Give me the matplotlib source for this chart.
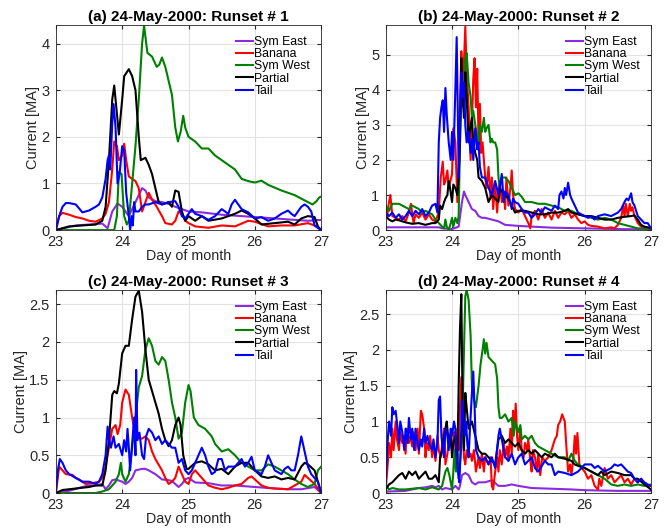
import matplotlib.pyplot as plt
from matplotlib.ticker import FormatStrFormatter

plt.rcParams['font.family'] = ['Liberation Sans', 'DejaVu Sans']

names = ['Sym East', 'Banana', 'Sym West', 'Partial', 'Tail']
colors = ['#8a2be2', '#ff0000', '#008000', '#000000', '#0000ff']
titles = ['(a) 24-May-2000: Runset # 1', '(b) 24-May-2000: Runset # 2',
          '(c) 24-May-2000: Runset # 3', '(d) 24-May-2000: Runset # 4']
ytop = [4.4, 5.85, 2.69, 2.84]
yticks = [[0, 1, 2, 3, 4], [0, 1, 2, 3, 4, 5],
          [0, 0.5, 1, 1.5, 2, 2.5], [0, 0.5, 1, 1.5, 2, 2.5]]
xticks = [23, 24, 25, 26, 27]

# (day, current [MA])
# runset 1
a_east = [(23, 0), (23.3, 0.1), (23.7, 0.14), (23.78, 0.04), (23.85, 0.4), (23.93, 0.57),
          (24.0, 0.5), (24.1, 0.3), (24.2, 0.6), (24.3, 0.9), (24.35, 0.85), (24.4, 0.7),
          (24.5, 0.62), (24.6, 0.6), (24.7, 0.56), (24.8, 0.5), (25.0, 0.4), (25.2, 0.38),
          (25.5, 0.33), (25.8, 0.3), (26.0, 0.28), (26.3, 0.25), (26.6, 0.22), (26.8, 0.2),
          (27, 0.22)]
a_banana = [(23, 0), (23.05, 0.3), (23.1, 0.37), (23.2, 0.33), (23.3, 0.28), (23.4, 0.25),
            (23.5, 0.2), (23.6, 0.18), (23.7, 0.25), (23.75, 0.35), (23.8, 0.6), (23.85, 1.3),
            (23.88, 1.9), (23.92, 1.8), (23.95, 1.5), (24.0, 1.6), (24.03, 1.85), (24.06, 1.5),
            (24.1, 1.15), (24.15, 1.1), (24.2, 1.05), (24.25, 0.9), (24.3, 0.4), (24.35, 0.6),
            (24.4, 0.8), (24.45, 0.65), (24.5, 0.55), (24.6, 0.3), (24.65, 0.15), (24.75, 0.12),
            (24.8, 0.2), (24.85, 0.4), (24.9, 0.35), (24.95, 0.2), (25.0, 0.15), (25.1, 0.08),
            (25.3, 0.05), (25.5, 0.1), (25.7, 0.08), (25.9, 0.2), (26.0, 0.18), (26.2, 0.08),
            (26.4, 0.1), (26.6, 0.1), (26.8, 0.15), (26.9, 0.1), (27, 0)]
a_west = [(23, 0), (23.5, 0), (23.88, 0), (23.92, 0.3), (23.95, 1.25), (23.99, 1.2),
          (24.03, 0.3), (24.07, 0.12), (24.1, 0.2), (24.15, 1.0), (24.2, 1.8), (24.25, 2.8),
          (24.3, 4.0), (24.33, 4.38), (24.38, 3.8), (24.45, 3.72), (24.52, 3.5), (24.56, 3.55),
          (24.6, 3.7), (24.65, 3.5), (24.7, 3.2), (24.75, 2.9), (24.8, 2.2), (24.84, 1.9),
          (24.88, 2.1), (24.92, 2.45), (24.95, 2.2), (25.0, 2.0), (25.1, 1.9), (25.2, 1.75),
          (25.3, 1.75), (25.4, 1.6), (25.5, 1.5), (25.6, 1.4), (25.7, 1.3), (25.8, 1.1),
          (25.9, 1.05), (26.0, 1.02), (26.1, 1.06), (26.2, 0.97), (26.4, 0.85), (26.6, 0.75),
          (26.8, 0.6), (26.87, 0.55), (26.93, 0.62), (26.97, 0.7), (27, 0.72)]
a_partial = [(23, 0), (23.2, 0.08), (23.4, 0.1), (23.6, 0.12), (23.7, 0.2), (23.75, 0.5),
             (23.8, 1.5), (23.85, 2.8), (23.88, 3.1), (23.92, 2.5), (23.95, 2.05), (24.0, 2.8),
             (24.03, 3.3), (24.1, 3.45), (24.15, 3.3), (24.2, 3.0), (24.25, 2.0), (24.28, 1.5),
             (24.35, 1.55), (24.4, 1.4), (24.45, 1.2), (24.5, 0.9), (24.55, 0.6), (24.6, 0.55),
             (24.7, 0.6), (24.75, 0.5), (24.8, 0.85), (24.85, 0.82), (24.9, 0.4), (24.95, 0.2),
             (25.0, 0.3), (25.1, 0.2), (25.2, 0.3), (25.3, 0.2), (25.5, 0.25), (25.7, 0.35),
             (25.8, 0.42), (25.9, 0.35), (26.0, 0.25), (26.1, 0.12), (26.3, 0.15), (26.5, 0.18),
             (26.6, 0.12), (26.7, 0.25), (26.8, 0.3), (26.9, 0.28), (26.95, 0.08), (27, 0)]
a_tail = [(23, 0), (23.05, 0.3), (23.1, 0.5), (23.15, 0.58), (23.2, 0.58), (23.3, 0.55),
          (23.4, 0.38), (23.5, 0.42), (23.6, 0.5), (23.65, 0.55), (23.7, 0.7), (23.75, 1.1),
          (23.78, 1.5), (23.8, 1.6), (23.82, 1.3), (23.85, 2.3), (23.87, 2.7), (23.9, 2.2),
          (23.93, 1.0), (23.96, 1.2), (24.0, 1.8), (24.03, 1.7), (24.06, 0.8), (24.1, 0.3),
          (24.12, 0.0), (24.14, 0.3), (24.16, 0.1), (24.18, 0.6), (24.2, 0.4), (24.25, 0.4),
          (24.3, 0.5), (24.35, 0.55), (24.4, 0.55), (24.5, 0.6), (24.6, 0.55), (24.7, 0.6),
          (24.8, 0.62), (24.85, 0.5), (24.9, 0.3), (24.95, 0.25), (25.0, 0.35), (25.05, 0.45),
          (25.1, 0.35), (25.2, 0.3), (25.3, 0.22), (25.4, 0.3), (25.5, 0.45), (25.6, 0.35),
          (25.65, 0.55), (25.7, 0.65), (25.75, 0.55), (25.8, 0.45), (25.9, 0.38), (26.0, 0.25),
          (26.1, 0.28), (26.2, 0.2), (26.3, 0.25), (26.4, 0.35), (26.5, 0.42), (26.55, 0.35),
          (26.6, 0.3), (26.7, 0.5), (26.75, 0.55), (26.8, 0.5), (26.85, 0.4), (26.9, 0.1),
          (27, 0)]

# runset 2
b_east = [(23, 0.08), (23.4, 0.08), (23.8, 0.08), (23.85, 0.05), (24.0, 0.03), (24.1, 0.1),
          (24.15, 0.8), (24.18, 1.1), (24.2, 1.0), (24.25, 0.8), (24.3, 0.6), (24.35, 0.55),
          (24.4, 0.4), (24.45, 0.35), (24.5, 0.35), (24.6, 0.3), (24.7, 0.25), (24.8, 0.15),
          (25.0, 0.12), (25.2, 0.1), (25.5, 0.07), (26.0, 0.05), (26.5, 0.03), (27, 0.02)]
b_banana = [(23, 0.7), (23.02, 0.4), (23.05, 0.8), (23.07, 1.0), (23.1, 0.4), (23.15, 0.35),
            (23.2, 0.3), (23.25, 0.4), (23.3, 0.25), (23.35, 0.5), (23.38, 0.75), (23.42, 0.2),
            (23.45, 0.45), (23.5, 0.35), (23.55, 0.5), (23.6, 0.3), (23.65, 0.45), (23.7, 0.3),
            (23.75, 0.25), (23.8, 0.5), (23.83, 1.5), (23.86, 1.95), (23.88, 1.3), (23.9, 1.4),
            (23.93, 1.7), (23.95, 1.2), (24.0, 1.6), (24.02, 2.9), (24.05, 2.5), (24.08, 0.8),
            (24.1, 1.5), (24.12, 3.5), (24.14, 5.1), (24.16, 4.2), (24.18, 4.8), (24.2, 5.8),
            (24.22, 4.5), (24.25, 3.5), (24.28, 2.0), (24.3, 3.0), (24.32, 4.3), (24.34, 4.9),
            (24.36, 3.5), (24.38, 4.6), (24.4, 2.5), (24.42, 3.6), (24.44, 2.2), (24.46, 2.5),
            (24.5, 1.5), (24.52, 1.2), (24.55, 1.8), (24.58, 0.9), (24.6, 1.5), (24.62, 0.6),
            (24.65, 1.3), (24.68, 0.5), (24.7, 1.1), (24.72, 1.4), (24.75, 0.8), (24.78, 1.1),
            (24.8, 0.6), (24.82, 1.5), (24.85, 0.7), (24.88, 1.2), (24.9, 1.7), (24.92, 1.0),
            (24.95, 0.6), (25.0, 0.5), (25.05, 0.6), (25.1, 0.4), (25.15, 0.2), (25.18, 0.05),
            (25.2, 0.4), (25.25, 0.55), (25.3, 0.3), (25.35, 0.6), (25.4, 0.35), (25.45, 0.5),
            (25.5, 0.3), (25.55, 0.55), (25.6, 0.35), (25.65, 0.5), (25.7, 0.45), (25.75, 0.55),
            (25.8, 0.35), (25.85, 0.45), (25.9, 0.3), (25.95, 0.2), (26.0, 0.25), (26.05, 0.15),
            (26.1, 0.12), (26.2, 0.1), (26.3, 0.05), (26.4, 0.08), (26.45, 0.05), (26.5, 0.15),
            (26.55, 0.35), (26.58, 0.7), (26.6, 0.4), (26.62, 0.75), (26.65, 0.4), (26.68, 0.75),
            (26.7, 0.55), (26.72, 0.65), (26.75, 0.4), (26.8, 0.2), (26.85, 0.1), (26.9, 0.05),
            (27, 0.05)]
b_west = [(23, 0.7), (23.05, 0.55), (23.1, 0.75), (23.15, 0.75), (23.2, 0.75), (23.25, 0.7),
          (23.3, 0.65), (23.35, 0.6), (23.4, 0.7), (23.45, 0.65), (23.5, 0.6), (23.55, 0.5),
          (23.6, 0.55), (23.65, 0.5), (23.7, 0.45), (23.75, 0.3), (23.8, 0.2), (23.85, 0.1),
          (23.88, 0.05), (23.9, 0.3), (23.92, 0.1), (23.95, 0.0), (23.98, 0.2), (24.0, 0.35),
          (24.02, 0.1), (24.05, 0.35), (24.08, 0.2), (24.1, 0.4), (24.12, 2.5), (24.15, 4.5),
          (24.17, 3.5), (24.2, 4.8), (24.22, 5.05), (24.25, 4.2), (24.28, 3.8), (24.3, 3.2),
          (24.32, 3.4), (24.35, 3.0), (24.4, 2.4), (24.42, 3.0), (24.45, 2.8), (24.48, 3.2),
          (24.5, 2.8), (24.52, 2.9), (24.55, 3.0), (24.58, 2.5), (24.6, 2.6), (24.62, 2.5),
          (24.65, 2.5), (24.68, 2.3), (24.7, 1.5), (24.72, 1.2), (24.75, 1.5), (24.8, 1.5),
          (24.85, 1.4), (24.9, 1.2), (24.95, 1.0), (25.0, 1.05), (25.05, 0.95), (25.1, 0.8),
          (25.2, 0.8), (25.3, 0.75), (25.4, 0.75), (25.5, 0.7), (25.6, 0.65), (25.7, 0.55),
          (25.8, 0.55), (25.9, 0.45), (26.0, 0.4), (26.1, 0.35), (26.2, 0.3), (26.3, 0.35),
          (26.4, 0.3), (26.5, 0.2), (26.6, 0.15), (26.7, 0.1), (26.8, 0.05), (26.9, 0.05),
          (27, 0.05)]
b_partial = [(23, 0.4), (23.05, 0.3), (23.1, 0.25), (23.15, 0.3), (23.2, 0.28), (23.3, 0.22),
             (23.4, 0.18), (23.5, 0.2), (23.6, 0.15), (23.7, 0.2), (23.75, 0.2), (23.8, 0.3),
             (23.82, 0.7), (23.85, 0.6), (23.88, 0.8), (23.9, 0.9), (23.93, 1.0), (23.95, 1.4),
             (23.97, 1.2), (24.0, 0.8), (24.02, 1.3), (24.05, 1.2), (24.08, 1.0), (24.1, 1.5),
             (24.12, 2.5), (24.14, 4.9), (24.16, 3.8), (24.18, 3.2), (24.2, 4.5), (24.22, 3.8),
             (24.25, 2.5), (24.28, 3.0), (24.3, 3.2), (24.32, 2.5), (24.35, 2.2), (24.38, 2.0),
             (24.4, 1.5), (24.45, 1.4), (24.5, 1.2), (24.55, 0.8), (24.6, 1.0), (24.65, 0.9),
             (24.7, 0.8), (24.72, 1.2), (24.75, 1.1), (24.8, 1.0), (24.85, 0.9), (24.9, 0.7),
             (24.95, 0.5), (25.0, 0.55), (25.1, 0.55), (25.2, 0.5), (25.3, 0.45), (25.4, 0.45),
             (25.5, 0.5), (25.6, 0.5), (25.7, 0.55), (25.75, 0.6), (25.8, 0.5), (25.9, 0.45),
             (26.0, 0.4), (26.1, 0.4), (26.2, 0.35), (26.3, 0.3), (26.4, 0.3), (26.5, 0.35),
             (26.6, 0.38), (26.7, 0.4), (26.75, 0.42), (26.8, 0.3), (26.85, 0.15), (26.9, 0.1),
             (26.95, 0.08), (27, 0.05)]
b_tail = [(23, 0.5), (23.05, 0.4), (23.1, 0.5), (23.15, 0.35), (23.2, 0.45), (23.25, 0.3),
          (23.3, 0.4), (23.35, 0.55), (23.4, 0.4), (23.45, 0.55), (23.5, 0.45), (23.55, 0.6),
          (23.6, 0.4), (23.65, 0.5), (23.7, 0.7), (23.75, 0.75), (23.78, 0.5), (23.8, 2.5),
          (23.82, 3.2), (23.84, 3.5), (23.86, 3.7), (23.88, 2.8), (23.9, 4.05), (23.92, 3.3),
          (23.95, 2.5), (23.98, 2.0), (24.0, 2.8), (24.02, 2.0), (24.05, 4.0), (24.07, 5.5),
          (24.09, 3.0), (24.1, 1.5), (24.12, 3.0), (24.14, 4.5), (24.16, 3.8), (24.18, 4.2),
          (24.2, 3.0), (24.22, 2.5), (24.25, 2.8), (24.28, 2.2), (24.3, 2.6), (24.32, 2.0),
          (24.35, 2.9), (24.38, 2.3), (24.4, 2.5), (24.42, 1.8), (24.45, 1.5), (24.5, 1.5),
          (24.55, 1.2), (24.6, 1.0), (24.65, 1.4), (24.7, 1.0), (24.75, 1.6), (24.78, 0.8),
          (24.8, 1.1), (24.85, 1.0), (24.9, 0.6), (24.92, 0.9), (24.95, 0.8), (25.0, 0.75),
          (25.05, 0.6), (25.1, 0.5), (25.15, 0.5), (25.2, 0.35), (25.25, 0.45), (25.3, 0.6),
          (25.35, 0.5), (25.4, 0.65), (25.45, 0.6), (25.5, 0.55), (25.55, 0.7), (25.6, 0.6),
          (25.62, 1.0), (25.65, 1.1), (25.68, 0.9), (25.7, 1.2), (25.72, 1.0), (25.75, 1.35),
          (25.78, 1.0), (25.8, 0.9), (25.85, 0.7), (25.9, 0.5), (25.95, 0.45), (26.0, 0.4),
          (26.05, 0.35), (26.1, 0.4), (26.15, 0.3), (26.2, 0.4), (26.3, 0.45), (26.4, 0.4),
          (26.5, 0.5), (26.55, 0.6), (26.6, 0.8), (26.63, 0.9), (26.66, 0.85), (26.7, 1.05),
          (26.72, 0.8), (26.75, 0.7), (26.8, 0.4), (26.85, 0.3), (26.9, 0.2), (26.95, 0.2),
          (27, 0.05)]

# runset 3
c_east = [(23, 0), (23.2, 0.03), (23.4, 0.08), (23.5, 0.1), (23.6, 0.1), (23.7, 0.12),
          (23.75, 0.05), (23.8, 0.1), (23.85, 0.17), (23.9, 0.18), (24.0, 0.15), (24.05, 0.12),
          (24.1, 0.15), (24.15, 0.2), (24.2, 0.3), (24.3, 0.32), (24.35, 0.32), (24.4, 0.3),
          (24.5, 0.25), (24.6, 0.18), (24.7, 0.17), (24.75, 0.16), (24.8, 0.12), (24.85, 0.08),
          (24.9, 0.12), (24.95, 0.18), (25.0, 0.2), (25.05, 0.17), (25.1, 0.14), (25.3, 0.13),
          (25.5, 0.1), (25.7, 0.1), (26.0, 0.08), (26.3, 0.06), (26.5, 0.05), (26.7, 0.05),
          (26.9, 0.08), (27, 0)]
c_banana = [(23, 0), (23.05, 0.35), (23.1, 0.3), (23.15, 0.25), (23.25, 0.24), (23.3, 0.2),
            (23.35, 0.18), (23.45, 0.12), (23.55, 0.13), (23.65, 0.15), (23.7, 0.2), (23.75, 0.35),
            (23.8, 0.6), (23.85, 0.85), (23.9, 0.9), (23.93, 0.78), (23.97, 0.9), (24.0, 1.2),
            (24.05, 1.37), (24.1, 1.3), (24.15, 1.0), (24.2, 0.75), (24.3, 0.72), (24.35, 0.75),
            (24.4, 0.7), (24.45, 0.55), (24.5, 0.45), (24.6, 0.3), (24.65, 0.2), (24.7, 0.12),
            (24.75, 0.15), (24.8, 0.2), (24.85, 0.35), (24.9, 0.25), (24.95, 0.15), (25.0, 0.12),
            (25.05, 0.25), (25.1, 0.3), (25.2, 0.2), (25.3, 0.1), (25.4, 0.07), (25.5, 0.05),
            (25.6, 0.07), (25.7, 0.1), (25.8, 0.12), (25.9, 0.2), (25.95, 0.22), (26.0, 0.18),
            (26.1, 0.1), (26.2, 0.07), (26.3, 0.06), (26.5, 0.05), (26.7, 0.15), (26.75, 0.24),
            (26.8, 0.2), (26.9, 0.12), (27, 0)]
c_west = [(23, 0), (23.6, 0), (23.7, 0.02), (23.8, 0.05), (23.9, 0.15), (23.95, 0.25),
          (23.98, 0.4), (24.0, 0.25), (24.05, 0.15), (24.1, 0.25), (24.15, 0.6), (24.2, 1.0),
          (24.25, 1.4), (24.3, 1.55), (24.35, 1.9), (24.4, 2.05), (24.45, 1.95), (24.5, 1.75),
          (24.55, 1.7), (24.6, 1.8), (24.65, 1.75), (24.7, 1.5), (24.75, 1.2), (24.8, 1.0),
          (24.85, 0.72), (24.9, 0.8), (24.95, 1.2), (25.0, 1.43), (25.03, 1.35), (25.08, 1.0),
          (25.15, 0.9), (25.25, 0.85), (25.3, 0.8), (25.35, 0.75), (25.4, 0.65), (25.5, 0.55),
          (25.6, 0.58), (25.7, 0.5), (25.8, 0.4), (25.9, 0.35), (26.0, 0.3), (26.1, 0.3),
          (26.2, 0.38), (26.3, 0.35), (26.4, 0.3), (26.5, 0.25), (26.6, 0.18), (26.7, 0.12),
          (26.8, 0.08), (26.9, 0.12), (26.95, 0.3), (27, 0.35)]
c_partial = [(23, 0), (23.1, 0.04), (23.3, 0.06), (23.5, 0.08), (23.6, 0.1), (23.7, 0.1),
             (23.75, 0.3), (23.8, 0.7), (23.85, 1.3), (23.88, 1.35), (23.92, 1.32), (23.95, 1.45),
             (24.0, 1.85), (24.05, 1.95), (24.1, 1.95), (24.15, 2.3), (24.2, 2.6), (24.25, 2.68),
             (24.3, 2.4), (24.35, 1.9), (24.4, 1.5), (24.45, 1.35), (24.5, 1.2), (24.55, 1.05),
             (24.6, 0.85), (24.65, 0.7), (24.7, 0.62), (24.75, 0.7), (24.8, 0.9), (24.85, 1.0),
             (24.88, 0.9), (24.92, 0.5), (24.97, 0.32), (25.0, 0.32), (25.1, 0.4), (25.2, 0.42),
             (25.3, 0.38), (25.4, 0.3), (25.5, 0.32), (25.6, 0.25), (25.7, 0.35), (25.8, 0.4),
             (25.9, 0.4), (26.0, 0.3), (26.1, 0.22), (26.2, 0.2), (26.3, 0.22), (26.4, 0.18),
             (26.5, 0.2), (26.6, 0.18), (26.7, 0.35), (26.75, 0.4), (26.8, 0.38), (26.9, 0.3),
             (26.95, 0.15), (27, 0)]
c_tail = [(23, 0), (23.03, 0.3), (23.06, 0.45), (23.1, 0.4), (23.15, 0.3), (23.2, 0.25),
          (23.3, 0.2), (23.4, 0.15), (23.5, 0.15), (23.6, 0.12), (23.65, 0.15), (23.7, 0.25),
          (23.75, 0.5), (23.78, 0.88), (23.8, 0.7), (23.83, 0.6), (23.87, 0.75), (23.9, 0.6),
          (23.95, 0.65), (24.0, 0.5), (24.03, 0.7), (24.06, 0.55), (24.08, 0.85), (24.1, 0.6),
          (24.12, 0.3), (24.15, 0.65), (24.18, 1.0), (24.2, 0.5), (24.21, 1.63), (24.23, 0.7),
          (24.26, 0.8), (24.3, 0.5), (24.33, 0.45), (24.36, 0.75), (24.4, 0.85), (24.45, 0.8),
          (24.5, 0.7), (24.55, 0.75), (24.6, 0.65), (24.65, 0.7), (24.7, 0.65), (24.75, 0.6),
          (24.8, 0.6), (24.85, 0.4), (24.9, 0.45), (24.95, 0.3), (25.0, 0.25), (25.05, 0.3),
          (25.1, 0.4), (25.15, 0.5), (25.2, 0.6), (25.25, 0.5), (25.3, 0.35), (25.35, 0.25),
          (25.4, 0.28), (25.45, 0.45), (25.5, 0.45), (25.55, 0.3), (25.6, 0.35), (25.7, 0.35),
          (25.75, 0.4), (25.8, 0.45), (25.85, 0.35), (25.9, 0.4), (25.95, 0.48), (26.0, 0.3),
          (26.1, 0.25), (26.15, 0.35), (26.2, 0.5), (26.25, 0.4), (26.3, 0.3), (26.4, 0.25),
          (26.45, 0.32), (26.5, 0.35), (26.55, 0.3), (26.6, 0.3), (26.65, 0.5), (26.7, 0.75),
          (26.75, 0.55), (26.8, 0.35), (26.85, 0.25), (26.9, 0.2), (26.95, 0.15), (27, 0)]

# runset 4
d_east = [(23, 0.02), (23.3, 0.03), (23.4, 0.05), (23.5, 0.07), (23.6, 0.08), (23.7, 0.1),
          (23.75, 0.08), (23.8, 0.1), (23.85, 0.05), (23.9, 0.07), (24.0, 0.05), (24.05, 0.1),
          (24.1, 0.05), (24.12, 0.1), (24.15, 0.25), (24.2, 0.28), (24.25, 0.25), (24.3, 0.15),
          (24.35, 0.12), (24.4, 0.15), (24.5, 0.15), (24.6, 0.18), (24.7, 0.1), (24.8, 0.1),
          (24.9, 0.12), (25.0, 0.1), (25.2, 0.07), (25.5, 0.06), (25.8, 0.05), (26.0, 0.04),
          (26.5, 0.03), (27, 0.03)]
d_banana = [(23, 0.05), (23.03, 0.4), (23.05, 0.7), (23.08, 0.5), (23.1, 0.9), (23.12, 0.6),
            (23.15, 1.0), (23.17, 0.75), (23.2, 0.6), (23.22, 0.85), (23.25, 0.7), (23.27, 0.8),
            (23.3, 0.55), (23.32, 0.9), (23.35, 0.7), (23.37, 0.8), (23.4, 0.65), (23.42, 0.85),
            (23.45, 0.6), (23.48, 0.9), (23.5, 0.55), (23.53, 1.15), (23.55, 1.1), (23.58, 0.9),
            (23.6, 0.5), (23.62, 0.7), (23.65, 0.6), (23.67, 0.8), (23.7, 0.5), (23.72, 0.7),
            (23.75, 0.45), (23.78, 0.8), (23.8, 0.6), (23.83, 0.5), (23.86, 0.75), (23.88, 0.9),
            (23.9, 0.4), (23.93, 0.55), (23.96, 0.8), (24.0, 0.6), (24.03, 0.85), (24.06, 0.5),
            (24.08, 0.9), (24.1, 0.6), (24.12, 1.2), (24.14, 1.62), (24.16, 0.9), (24.18, 0.5),
            (24.2, 0.4), (24.22, 0.6), (24.25, 0.5), (24.28, 0.55), (24.3, 0.45), (24.33, 0.6),
            (24.36, 0.3), (24.4, 0.5), (24.42, 0.35), (24.45, 0.55), (24.48, 0.3), (24.5, 0.5),
            (24.55, 0.4), (24.58, 0.5), (24.6, 0.1), (24.62, 0.05), (24.65, 0.3), (24.68, 0.5),
            (24.7, 0.3), (24.72, 0.6), (24.75, 0.4), (24.78, 0.7), (24.8, 0.5), (24.83, 0.65),
            (24.85, 0.45), (24.88, 0.9), (24.9, 0.55), (24.92, 1.15), (24.94, 0.9), (24.96, 1.25),
            (24.98, 0.8), (25.0, 0.6), (25.03, 0.9), (25.05, 0.6), (25.08, 0.5), (25.1, 0.7),
            (25.13, 0.6), (25.15, 0.75), (25.18, 0.45), (25.2, 0.3), (25.22, 0.6), (25.25, 0.5),
            (25.28, 0.3), (25.3, 0.55), (25.33, 0.25), (25.36, 0.5), (25.4, 0.45), (25.45, 0.5),
            (25.5, 0.6), (25.55, 0.75), (25.58, 0.8), (25.6, 0.95), (25.63, 1.0), (25.66, 1.1),
            (25.7, 1.0), (25.72, 0.7), (25.75, 0.3), (25.78, 0.4), (25.8, 0.25), (25.83, 0.5),
            (25.85, 0.8), (25.87, 0.55), (25.89, 0.84), (25.92, 0.4), (25.95, 0.35), (26.0, 0.3),
            (26.05, 0.2), (26.1, 0.25), (26.15, 0.1), (26.2, 0.05), (26.22, 0.2), (26.25, 0.1),
            (26.28, 0.25), (26.3, 0.35), (26.35, 0.2), (26.4, 0.25), (26.45, 0.15), (26.5, 0.2),
            (26.55, 0.25), (26.6, 0.15), (26.65, 0.2), (26.7, 0.12), (26.75, 0.2), (26.8, 0.15),
            (26.85, 0.2), (26.9, 0.12), (26.95, 0.1), (27, 0.1)]
d_west = [(23, 0.1), (23.05, 0.05), (23.1, 0.07), (23.2, 0.05), (23.3, 0.05), (23.4, 0.06),
          (23.5, 0.07), (23.6, 0.05), (23.7, 0.08), (23.8, 0.05), (23.85, 0.1), (23.9, 0.3),
          (23.93, 0.35), (23.96, 0.25), (24.0, 0.05), (24.02, 0.3), (24.04, 0.6), (24.06, 0.3),
          (24.08, 0.55), (24.1, 0.2), (24.12, 0.4), (24.15, 0.8), (24.18, 2.0), (24.2, 2.75),
          (24.22, 2.84), (24.25, 2.7), (24.28, 2.2), (24.3, 1.5), (24.33, 1.3), (24.36, 1.2),
          (24.4, 1.5), (24.43, 1.8), (24.46, 2.0), (24.48, 2.15), (24.5, 1.95), (24.52, 2.1),
          (24.55, 1.9), (24.6, 1.85), (24.65, 1.8), (24.68, 1.6), (24.7, 1.2), (24.72, 1.05),
          (24.75, 1.05), (24.8, 1.1), (24.85, 1.0), (24.9, 1.05), (24.93, 0.8), (24.95, 1.0),
          (25.0, 0.85), (25.03, 0.95), (25.05, 0.75), (25.1, 0.8), (25.15, 0.75), (25.2, 0.8),
          (25.25, 0.7), (25.3, 0.65), (25.4, 0.6), (25.5, 0.55), (25.6, 0.5), (25.7, 0.5),
          (25.75, 0.45), (25.8, 0.55), (25.85, 0.45), (25.9, 0.4), (26.0, 0.35), (26.1, 0.3),
          (26.2, 0.25), (26.3, 0.2), (26.4, 0.12), (26.5, 0.1), (26.6, 0.12), (26.7, 0.1),
          (26.8, 0.12), (26.9, 0.1), (27, 0.12)]
d_partial = [(23, 0.05), (23.05, 0.12), (23.1, 0.15), (23.15, 0.2), (23.2, 0.25), (23.25, 0.28),
             (23.3, 0.2), (23.35, 0.3), (23.4, 0.25), (23.45, 0.3), (23.5, 0.2), (23.55, 0.25),
             (23.6, 0.3), (23.65, 0.2), (23.7, 0.2), (23.75, 0.25), (23.8, 0.15), (23.82, 0.5),
             (23.85, 0.6), (23.88, 0.8), (23.9, 0.9), (23.92, 1.0), (23.95, 0.7), (23.98, 0.8),
             (24.0, 0.5), (24.02, 0.7), (24.05, 0.8), (24.08, 0.4), (24.1, 1.5), (24.12, 2.3),
             (24.14, 2.78), (24.16, 1.2), (24.18, 0.6), (24.2, 1.4), (24.22, 1.2), (24.25, 0.9),
             (24.3, 1.0), (24.35, 0.8), (24.4, 0.6), (24.45, 0.55), (24.5, 0.55), (24.55, 0.5),
             (24.6, 0.45), (24.65, 0.4), (24.7, 0.75), (24.75, 0.8), (24.8, 0.7), (24.85, 0.75),
             (24.9, 0.7), (24.95, 0.65), (25.0, 0.7), (25.05, 0.6), (25.1, 0.55), (25.15, 0.6),
             (25.2, 0.55), (25.25, 0.6), (25.3, 0.55), (25.35, 0.5), (25.4, 0.55), (25.5, 0.5),
             (25.55, 0.55), (25.6, 0.5), (25.7, 0.48), (25.8, 0.45), (25.85, 0.4), (25.9, 0.38),
             (26.0, 0.35), (26.1, 0.3), (26.2, 0.25), (26.25, 0.3), (26.3, 0.25), (26.4, 0.3),
             (26.5, 0.28), (26.6, 0.25), (26.7, 0.25), (26.75, 0.2), (26.8, 0.2), (26.9, 0.12),
             (27, 0.05)]
d_tail = [(23, 0.1), (23.02, 0.6), (23.05, 1.0), (23.08, 0.8), (23.1, 1.2), (23.12, 1.1),
          (23.15, 1.15), (23.18, 0.9), (23.2, 0.7), (23.22, 1.0), (23.25, 0.85), (23.28, 0.6),
          (23.3, 0.9), (23.33, 0.7), (23.35, 1.05), (23.38, 0.75), (23.4, 0.9), (23.43, 0.6),
          (23.45, 0.9), (23.48, 0.7), (23.5, 0.6), (23.53, 0.75), (23.55, 0.65), (23.58, 0.9),
          (23.6, 0.7), (23.63, 0.8), (23.65, 0.7), (23.7, 0.6), (23.72, 0.75), (23.75, 0.5),
          (23.78, 0.7), (23.8, 1.3), (23.82, 1.35), (23.84, 0.8), (23.86, 0.6), (23.88, 0.5),
          (23.9, 0.9), (23.93, 0.8), (23.95, 0.6), (23.98, 0.9), (24.0, 0.8), (24.03, 1.0),
          (24.05, 0.9), (24.07, 0.5), (24.09, 0.3), (24.11, 0.15), (24.13, 0.6), (24.15, 1.3),
          (24.17, 1.1), (24.19, 0.8), (24.21, 1.0), (24.23, 0.7), (24.25, 0.5), (24.27, 0.9),
          (24.3, 1.4), (24.32, 1.7), (24.34, 1.2), (24.36, 0.6), (24.4, 0.5), (24.45, 0.45),
          (24.5, 0.5), (24.55, 0.4), (24.6, 0.5), (24.65, 0.35), (24.7, 0.8), (24.72, 0.9),
          (24.75, 0.75), (24.78, 0.6), (24.8, 0.5), (24.85, 0.45), (24.9, 0.55), (24.95, 0.4),
          (25.0, 0.5), (25.05, 0.55), (25.1, 0.4), (25.15, 0.45), (25.2, 0.5), (25.25, 0.35),
          (25.3, 0.3), (25.4, 0.45), (25.45, 0.4), (25.5, 0.4), (25.55, 0.25), (25.6, 0.3),
          (25.7, 0.28), (25.8, 0.25), (25.9, 0.3), (26.0, 0.4), (26.1, 0.4), (26.15, 0.35),
          (26.2, 0.38), (26.3, 0.3), (26.4, 0.35), (26.45, 0.4), (26.5, 0.38), (26.55, 0.4),
          (26.6, 0.35), (26.65, 0.3), (26.7, 0.28), (26.75, 0.2), (26.8, 0.15), (26.85, 0.2),
          (26.9, 0.15), (26.95, 0.12), (27, 0.1)]

runsets = [[a_east, a_banana, a_west, a_partial, a_tail],
           [b_east, b_banana, b_west, b_partial, b_tail],
           [c_east, c_banana, c_west, c_partial, c_tail],
           [d_east, d_banana, d_west, d_partial, d_tail]]

# axes boxes in figure fraction (left, bottom, width, height)
boxes = [[0.084, 0.565, 0.399, 0.388], [0.580, 0.565, 0.399, 0.388],
         [0.084, 0.068, 0.399, 0.384], [0.580, 0.068, 0.399, 0.384]]

fig = plt.figure(figsize=(6.65, 5.29), dpi=100)

for i in range(4):
    ax = fig.add_axes(boxes[i])
    for series, name, col in zip(runsets[i], names, colors):
        t, y = zip(*series)
        ax.plot(t, y, color=col, lw=1.5, label=name)
    ax.set_xlim(23, 27)
    ax.set_ylim(0, ytop[i])
    ax.set_xticks(xticks)
    ax.set_yticks(yticks[i])
    ax.yaxis.set_major_formatter(FormatStrFormatter('%g'))
    ax.grid(True, color='#e3e3e3', lw=0.8)
    ax.set_axisbelow(True)
    ax.tick_params(direction='in', labelsize=10.5, length=3, color='#262626',
                   labelcolor='#262626', top=True, right=True)
    ax.tick_params(axis='x', pad=3.5)
    ax.tick_params(axis='y', pad=4.5)
    for s in ax.spines.values():
        s.set_color('#262626')
        s.set_linewidth(0.6)
    ax.set_title(titles[i], fontsize=11, fontweight='bold', pad=3)
    ax.set_xlabel('Day of month', fontsize=10.3, labelpad=0, color='#262626')
    ax.set_ylabel('Current [MA]', fontsize=10.5, labelpad=1, color='#262626')
    ax.legend(loc='upper right', frameon=False, fontsize=8.8, handlelength=1.4,
              handletextpad=0.1, labelspacing=0.02, borderaxespad=0.5)

fig.savefig('out.png', dpi=100)
